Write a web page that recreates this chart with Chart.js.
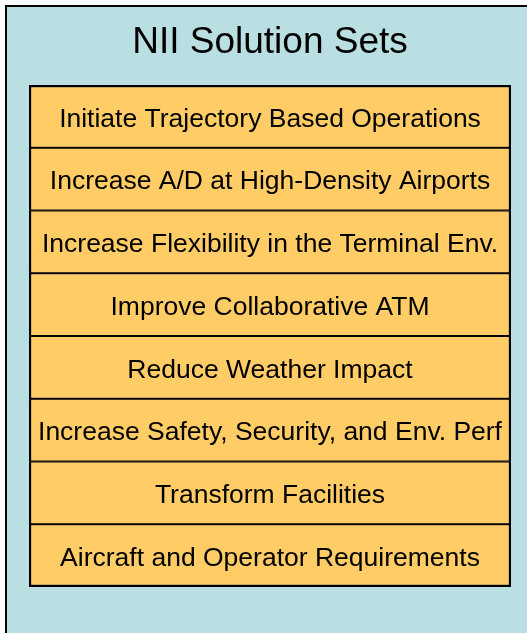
<!DOCTYPE html>
<html>
<head>
<meta charset="utf-8">
<script src="https://cdn.jsdelivr.net/npm/chart.js@4/dist/chart.umd.min.js"></script>
<style>
  html, body { margin: 0; padding: 0; background: #ffffff; }
  #wrap { width: 527px; height: 633px; position: relative; }
</style>
</head>
<body>
<div id="wrap"><canvas id="c" width="527" height="633"></canvas></div>
<script>
const chartTitle = "NII Solution Sets";
const categories = [
  "Initiate Trajectory Based Operations",
  "Increase A/D at High-Density Airports",
  "Increase Flexibility in the Terminal Env.",
  "Improve Collaborative ATM",
  "Reduce Weather Impact",
  "Increase Safety, Security, and Env. Perf",
  "Transform Facilities",
  "Aircraft and Operator Requirements"
];
const values = [1, 1, 1, 1, 1, 1, 1, 1];

const panelBg = "#BADFE3";
const boxFill = "#FFCC66";
const FONT = "'Liberation Sans', Arial, Helvetica, sans-serif";

const panelPlugin = {
  id: 'panel',
  beforeDraw(chart) {
    const ctx = chart.ctx;
    ctx.save();
    ctx.fillStyle = '#ffffff';
    ctx.fillRect(0, 0, chart.width, chart.height);
    ctx.fillStyle = panelBg;
    ctx.fillRect(5, 5, chart.width, chart.height);
    ctx.fillStyle = '#000000';
    ctx.fillRect(5, 5, 2, chart.height);
    ctx.fillRect(5, 5, chart.width, 2);
    ctx.restore();
  }
};

const labelPlugin = {
  id: 'boxLabels',
  afterDatasetsDraw(chart) {
    const ctx = chart.ctx;
    const meta = chart.getDatasetMeta(0);
    ctx.save();
    ctx.fillStyle = '#000000';
    ctx.font = "26.5px " + FONT;
    ctx.textAlign = 'center';
    ctx.textBaseline = 'middle';
    meta.data.forEach((bar, i) => {
      const cx = (bar.x + bar.base) / 2;
      ctx.fillText(chart.data.labels[i], cx, bar.y + 3);
    });
    ctx.restore();
  }
};

new Chart(document.getElementById('c'), {
  type: 'bar',
  data: {
    labels: categories,
    datasets: [{
      data: values,
      backgroundColor: boxFill,
      borderColor: '#000000',
      borderSkipped: false,
      borderWidth: (ctx) => ({
        left: 2.5,
        right: 2.5,
        top: ctx.dataIndex === 0 ? 2.5 : 1.25,
        bottom: ctx.dataIndex === categories.length - 1 ? 2.5 : 1.25
      }),
      barPercentage: 1,
      categoryPercentage: 1
    }]
  },
  options: {
    indexAxis: 'y',
    responsive: false,
    animation: false,
    devicePixelRatio: 1,
    layout: { padding: { left: 29, right: 16, top: 5, bottom: 46 } },
    scales: {
      x: { display: false, min: 0, max: 1 },
      y: { display: false }
    },
    plugins: {
      legend: { display: false },
      tooltip: { enabled: false },
      title: {
        display: true,
        text: chartTitle,
        color: '#000000',
        font: { size: 37, family: FONT, weight: 'normal' },
        padding: { top: 16, bottom: 19.6 }
      }
    }
  },
  plugins: [panelPlugin, labelPlugin]
});
</script>
</body>
</html>
